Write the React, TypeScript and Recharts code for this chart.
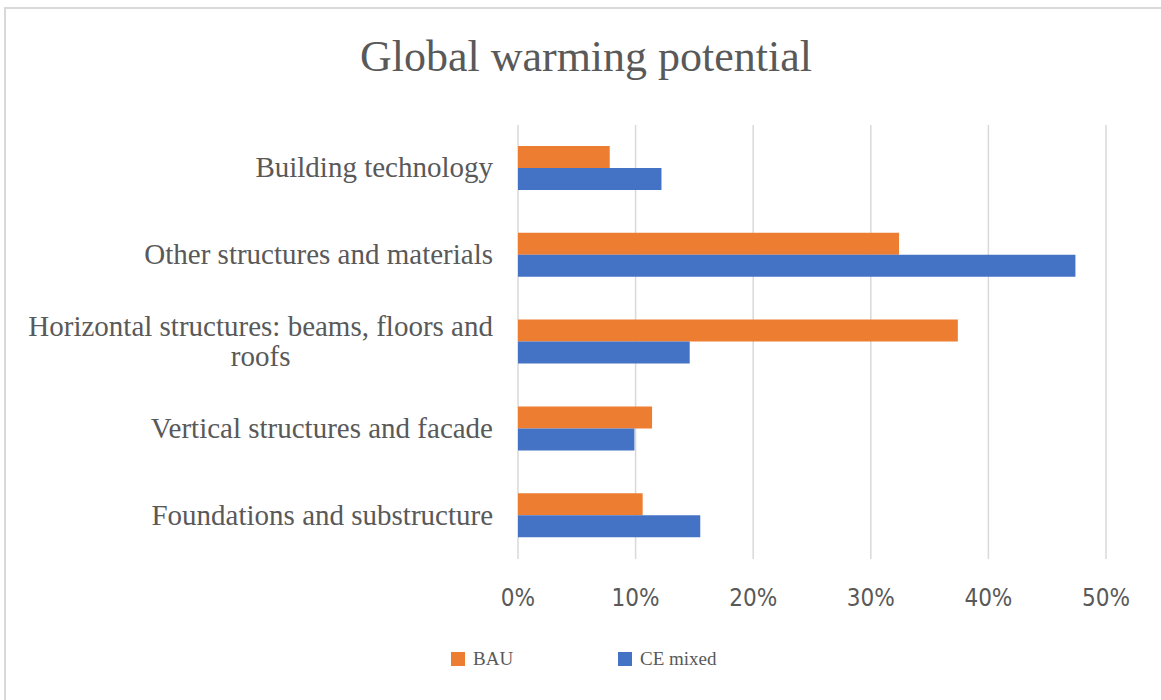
import React from 'react';
import { BarChart, Bar, XAxis, YAxis, CartesianGrid, Legend } from 'recharts';

// Share of global warming potential per building element group
const categories = [
  'Building technology',
  'Other structures and materials',
  'Horizontal structures: beams, floors and roofs',
  'Vertical structures and facade',
  'Foundations and substructure',
];
const bauValues = [0.078, 0.324, 0.374, 0.114, 0.106];
const ceMixedValues = [0.122, 0.474, 0.146, 0.099, 0.155];
const percentTicks = [0, 0.1, 0.2, 0.3, 0.4, 0.5];
const seriesNames = ['BAU', 'CE mixed'];
const seriesColors = ['#ED7D31', '#4472C4'];
const chartTitle = 'Global warming potential';

const data = categories.map((name, i) => ({
  name,
  bau: bauValues[i],
  ce: ceMixedValues[i],
}));

const TEXT_COLOR = '#595959';
const SERIF = '"Liberation Serif", "Times New Roman", serif';
const LABEL_SIZE = 29;
const LABEL_FONT = `${LABEL_SIZE}px "Liberation Serif"`;

let measureCtx: CanvasRenderingContext2D | null = null;
function textWidth(text: string, font: string): number {
  if (!measureCtx) {
    measureCtx = document.createElement('canvas').getContext('2d');
  }
  if (!measureCtx) return text.length * LABEL_SIZE * 0.5;
  measureCtx.font = font;
  return measureCtx.measureText(text).width;
}

function wrapText(text: string, font: string, maxWidth: number): string[] {
  const words = text.split(' ');
  const lines: string[] = [];
  let current = '';
  for (const w of words) {
    const candidate = current ? current + ' ' + w : w;
    if (current && textWidth(candidate, font) > maxWidth) {
      lines.push(current);
      current = w;
    } else {
      current = candidate;
    }
  }
  if (current) lines.push(current);
  return lines;
}

// Category labels: right-aligned, long ones wrapped with lines centred on each other
const CategoryTick = (props: any) => {
  const { x, y, payload } = props;
  const lines = wrapText(String(payload.value), LABEL_FONT, 480);
  const baselineShift = 9;
  const style = { fontFamily: SERIF, fontSize: LABEL_SIZE, fill: TEXT_COLOR };
  if (lines.length === 1) {
    return (
      <text x={x} y={y + baselineShift} textAnchor="end" style={style}>
        {lines[0]}
      </text>
    );
  }
  const widest = Math.max(...lines.map((l) => textWidth(l, LABEL_FONT)));
  const cx = x - widest / 2;
  const lineHeight = 30;
  const first = y - ((lines.length - 1) * lineHeight) / 2 + baselineShift;
  return (
    <text textAnchor="middle" style={style}>
      {lines.map((l, i) => (
        <tspan key={i} x={cx} y={first + i * lineHeight}>
          {l}
        </tspan>
      ))}
    </text>
  );
};

const PercentTick = (props: any) => {
  const { x, y, payload } = props;
  return (
    <text
      x={x}
      y={y + 47}
      textAnchor="middle"
      style={{
        fontFamily: '"Liberation Sans Narrow", "DejaVu Sans Condensed", "Liberation Sans", sans-serif',
        fontSize: 24,
        fill: TEXT_COLOR,
      }}
    >
      {`${Math.round(payload.value * 100)}%`}
    </text>
  );
};

const renderLegend = (props: any) => {
  const items = props.payload || [];
  return (
    <div
      style={{
        display: 'flex',
        alignItems: 'center',
        fontFamily: SERIF,
        fontSize: 19,
        color: TEXT_COLOR,
        height: 18,
      }}
    >
      {items.map((p: any, i: number) => (
        <div
          key={i}
          style={{ display: 'flex', alignItems: 'center', width: i === 0 ? 167 : 'auto' }}
        >
          <span
            style={{ display: 'inline-block', width: 14, height: 14, background: p.color, marginRight: 8 }}
          />
          <span style={{ lineHeight: '18px' }}>{p.value}</span>
        </div>
      ))}
    </div>
  );
};

export default function App() {
  return (
    <div
      style={{
        position: 'absolute',
        left: 0,
        top: 0,
        width: 1161,
        height: 700,
        overflow: 'hidden',
        background: '#ffffff',
      }}
    >
      <div
        style={{
          position: 'absolute',
          left: 4,
          top: 7,
          width: 1200,
          height: 760,
          borderLeft: '2px solid #d9d9d9',
          borderTop: '2px solid #d9d9d9',
        }}
      />
      <div
        style={{
          position: 'absolute',
          left: 186,
          top: 35,
          width: 800,
          textAlign: 'center',
          fontFamily: SERIF,
          fontSize: 44,
          lineHeight: '44px',
          color: TEXT_COLOR,
        }}
      >
        {chartTitle}
      </div>
      <div style={{ position: 'absolute', left: 0, top: 0 }}>
        <BarChart
          width={1161}
          height={700}
          data={data}
          layout="vertical"
          margin={{ top: 125, right: 55, bottom: 100, left: 0 }}
          barGap={0}
        >
          <CartesianGrid horizontal={false} stroke="#d9d9d9" strokeWidth={1.5} />
          <XAxis
            type="number"
            domain={[0, 0.5]}
            ticks={percentTicks}
            axisLine={false}
            tickLine={false}
            tickSize={0}
            tickMargin={0}
            height={41}
            tick={<PercentTick />}
          />
          <YAxis
            type="category"
            dataKey="name"
            width={518}
            axisLine={false}
            tickLine={false}
            tickSize={0}
            tickMargin={25}
            interval={0}
            tick={<CategoryTick />}
          />
          <Legend
            layout="horizontal"
            verticalAlign="middle"
            align="center"
            content={renderLegend}
            wrapperStyle={{ left: 451, top: 650, width: 320, height: 18 }}
          />
          <Bar dataKey="bau" name={seriesNames[0]} fill={seriesColors[0]} barSize={22} isAnimationActive={false} />
          <Bar dataKey="ce" name={seriesNames[1]} fill={seriesColors[1]} barSize={22} isAnimationActive={false} />
        </BarChart>
      </div>
    </div>
  );
}
